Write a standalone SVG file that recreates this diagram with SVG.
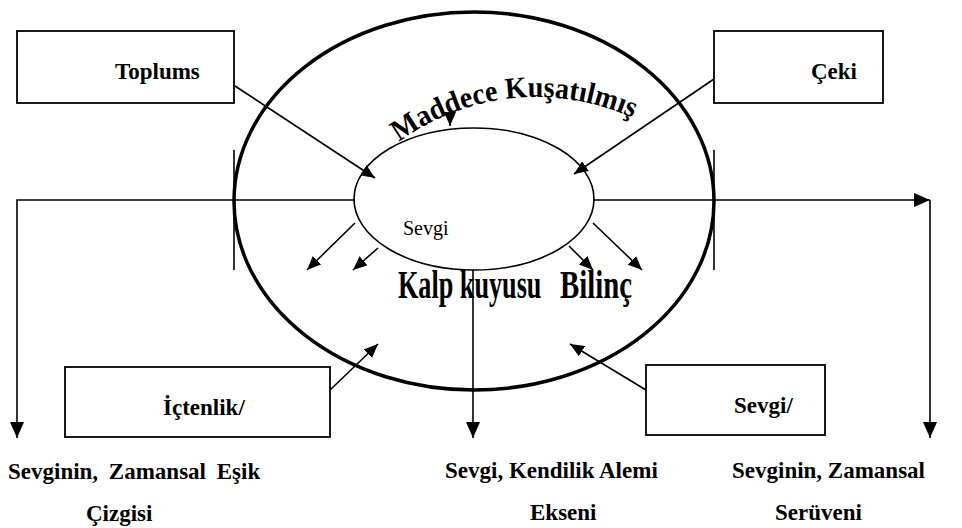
<svg xmlns="http://www.w3.org/2000/svg" width="962" height="528" viewBox="0 0 962 528">
<style>
.ln{stroke:#000;stroke-width:1.6;fill:none}
.box{stroke:#000;stroke-width:1.8;fill:#fff}
.lbl{font-family:"Liberation Serif","Times New Roman",serif;font-weight:bold;font-size:23px;fill:#000}
.art{font-family:"Liberation Serif","Times New Roman",serif;font-weight:bold;fill:#000}
</style>
<defs>
<marker id="big" markerUnits="userSpaceOnUse" markerWidth="16" markerHeight="14" refX="16" refY="7" orient="auto">
<path d="M0,0 L16,7 L0,14 Z" fill="#000"/>
</marker>
<marker id="sm" markerUnits="userSpaceOnUse" markerWidth="14" markerHeight="12" refX="14" refY="6" orient="auto">
<path d="M0,0 L14,6 L0,12 Z" fill="#000"/>
</marker>
<path id="arc" d="M 399,142 A 232 232 0 0 1 652,128"/>
</defs>
<rect width="962" height="528" fill="#fff"/>

<g id="outer-ellipse">
<ellipse cx="474" cy="201" rx="240" ry="189" fill="none" stroke="#000" stroke-width="3.5"/>
</g>
<g id="inner-ellipse">
<ellipse cx="474" cy="199" rx="120" ry="71" fill="#fff" stroke="#000" stroke-width="1.6"/>
<text x="403" y="235" font-family="'Liberation Serif','Times New Roman',serif" font-size="20" fill="#000">Sevgi</text>
</g>

<g id="connectors">
<polyline class="ln" points="355,200 17,200 17,438" marker-end="url(#big)"/>
<polyline class="ln" points="594,200 930,200" marker-end="url(#big)"/>
<line class="ln" x1="930" y1="200" x2="930" y2="438" marker-end="url(#big)"/>
<line class="ln" x1="473" y1="270" x2="473" y2="438" marker-end="url(#big)"/>
<line class="ln" x1="234" y1="150" x2="234" y2="270"/>
<line class="ln" x1="714" y1="150" x2="714" y2="270"/>
<line class="ln" x1="235" y1="86" x2="375" y2="178" marker-end="url(#sm)"/>
<line class="ln" x1="714" y1="79" x2="574" y2="174" marker-end="url(#sm)"/>
<line class="ln" x1="330" y1="390" x2="378" y2="344" marker-end="url(#sm)"/>
<line class="ln" x1="646" y1="390" x2="570" y2="344" marker-end="url(#sm)"/>
<line class="ln" x1="450" y1="108" x2="450" y2="126" marker-end="url(#sm)"/>
<line class="ln" x1="355" y1="223" x2="307" y2="270" marker-end="url(#sm)"/>
<line class="ln" x1="378" y1="248" x2="353" y2="270" marker-end="url(#sm)"/>
<line class="ln" x1="569" y1="246" x2="593" y2="270" marker-end="url(#sm)"/>
<line class="ln" x1="593" y1="223" x2="642" y2="270" marker-end="url(#sm)"/>
</g>

<g id="maddece">
<text class="art" font-size="30"><textPath href="#arc" textLength="246" lengthAdjust="spacingAndGlyphs">Maddece Kuşatılmış</textPath></text>
</g>
<g id="kalp">
<text class="art" font-size="40" transform="translate(398,298) scale(0.655,1)">Kalp kuyusu</text>
</g>
<g id="bilinc">
<text class="art" font-size="40" transform="translate(560,298) scale(0.72,1)">Bilinç</text>
</g>

<g id="toplums">
<rect class="box" x="17" y="31" width="217" height="72"/>
<text class="lbl" x="115" y="79">Toplums</text>
</g>
<g id="ceki">
<rect class="box" x="714" y="31" width="169" height="72"/>
<text class="lbl" x="811" y="79">Çeki</text>
</g>
<g id="ictenlik">
<rect class="box" x="65" y="367" width="265" height="70"/>
<text class="lbl" x="163" y="415">İçtenlik/</text>
</g>
<g id="sevgi-box">
<rect class="box" x="646" y="365" width="179" height="70"/>
<text class="lbl" x="734" y="413">Sevgi/</text>
</g>

<g id="label-left">
<text class="lbl" x="8" y="479" word-spacing="5">Sevginin, Zamansal Eşik</text>
<text class="lbl" x="86" y="521">Çizgisi</text>
</g>
<g id="label-mid">
<text class="lbl" x="445" y="478">Sevgi, Kendilik Alemi</text>
<text class="lbl" x="530" y="520">Ekseni</text>
</g>
<g id="label-right">
<text class="lbl" x="732" y="478">Sevginin, Zamansal</text>
<text class="lbl" x="775" y="520">Serüveni</text>
</g>
</svg>
